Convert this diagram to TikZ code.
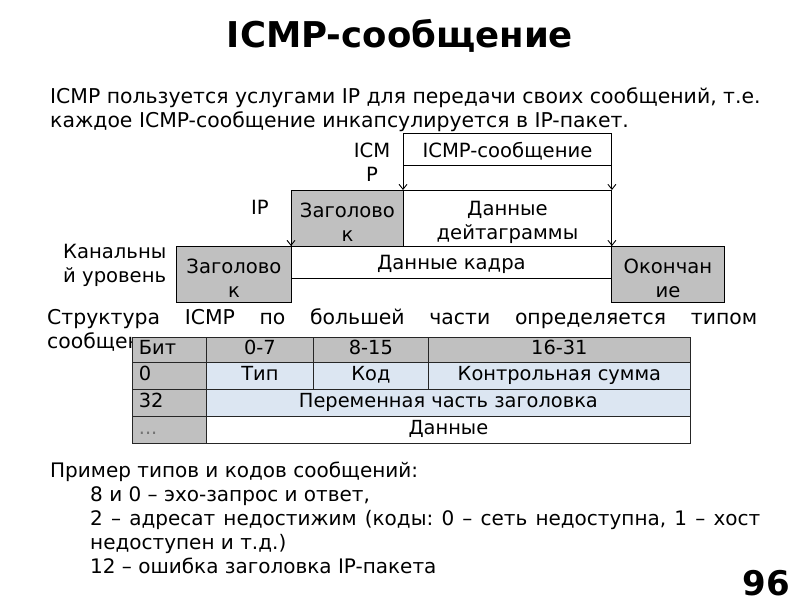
\documentclass[tikz,border=0pt]{standalone}
\usepackage{fontspec}
\setmainfont{DejaVu Sans}
\usetikzlibrary{arrows.meta}
\definecolor{hdrgrey}{RGB}{192,192,192}
\definecolor{cellblue}{RGB}{220,230,242}
\newcommand{\lowone}{\rule{0pt}{19pt}}
\newcommand{\lowtwo}{\rule{0pt}{22pt}}
\begin{document}
\begin{tikzpicture}[x=1pt,y=-1pt,
  txt/.style={inner sep=0pt, font=\fontsize{19.6}{24}\selectfont},
  para/.style={inner sep=0pt, anchor=base west, font=\fontsize{20.4}{24}\selectfont},
  exm/.style={inner sep=0pt, anchor=base west, font=\fontsize{20}{24}\selectfont},
  box/.style={draw=black, line width=0.9pt, inner sep=0pt, anchor=north west, align=center, font=\fontsize{19.6}{24}\selectfont},
  greybox/.style={box, fill=hdrgrey},
  arr/.style={-{Straight Barb[length=5pt,width=8pt]}, line width=0.9pt},
  tcell/.style={draw=black!85, line width=0.8pt, inner xsep=0pt, inner ysep=0pt, anchor=north west, align=center, text height=14pt, text depth=4pt, font=\fontsize{19.4}{24}\selectfont},
  tfirst/.style={tcell, fill=hdrgrey, text width=61pt, inner xsep=6.5pt, align=left}
]
\useasboundingbox (0,0) rectangle (800,600);

% title
\node[inner sep=0pt, anchor=base, font=\bfseries\fontsize{35.5}{40}\selectfont] (title) at (400,47.5) {ICMP-сообщение};

% intro
\node[para] (p1) at (50,103.5) {ICMP пользуется услугами IP для передачи своих сообщений, т.е.};
\node[para] (p2) at (50,127) {каждое ICMP-сообщение инкапсулируется в IP-пакет.};

% encapsulation diagram
\node[box, minimum width=208pt, minimum height=32pt] (icmp) at (403,133) {\lowone ICMP-сообщение};
\node[greybox, minimum width=112pt, minimum height=56pt] (iphdr) at (291,190) {\lowtwo Заголово\\к};
\node[box, minimum width=208pt, minimum height=56pt] (ipdata) at (403,190) {\lowtwo Данные\\дейтаграммы};
\node[greybox, minimum width=115pt, minimum height=56pt] (frhdr) at (176,246) {\lowtwo Заголово\\к};
\node[box, minimum width=320pt, minimum height=32pt] (frdata) at (291,246) {\lowone Данные кадра};
\node[greybox, minimum width=113pt, minimum height=56pt] (frtrl) at (611,246) {\lowtwo Окончан\\ие};

\draw[arr] (icmp.south west) -- (ipdata.north west);
\draw[arr] (icmp.south east) -- (ipdata.north east);
\draw[arr] (iphdr.north west) -- (frdata.north west);
\draw[arr] (ipdata.north east) -- (frdata.north east);

\node[txt, align=center] (licmp) at (372,162) {ICM\\P};
\node[txt] (lip) at (260,207) {IP};
\node[txt, align=left, anchor=west] (lch) at (63,265) {Канальны\\й уровень};

% structure paragraph
\node[para] (p3) at (47,324.5) {\hbox to 710pt{Структура\hfill ICMP\hfill по\hfill большей\hfill части\hfill определяется\hfill типом}};
\begin{scope}
  \clip (40,330) rectangle (132,360);
  \node[para] (p4) at (47,348.5) {сообщен};
\end{scope}

% table
\node[tfirst, minimum height=25pt] (t00) at (132,337) {Бит};
\node[tcell, fill=hdrgrey, minimum width=107pt, minimum height=25pt] (t01) at (206,337) {0-7};
\node[tcell, fill=hdrgrey, minimum width=115pt, minimum height=25pt] (t02) at (313,337) {8-15};
\node[tcell, fill=hdrgrey, minimum width=262pt, minimum height=25pt] (t03) at (428,337) {16-31};

\node[tfirst, minimum height=27pt] (t10) at (132,362) {0};
\node[tcell, fill=cellblue, minimum width=107pt, minimum height=27pt] (t11) at (206,362) {Тип};
\node[tcell, fill=cellblue, minimum width=115pt, minimum height=27pt] (t12) at (313,362) {Код};
\node[tcell, fill=cellblue, minimum width=262pt, minimum height=27pt] (t13) at (428,362) {Контрольная сумма};

\node[tfirst, minimum height=27pt] (t20) at (132,389) {32};
\node[tcell, fill=cellblue, minimum width=484pt, minimum height=27pt] (t21) at (206,389) {Переменная часть заголовка};

\node[tfirst, minimum height=27pt] (t30) at (132,416) {\color{black!55}...};
\node[tcell, fill=white, minimum width=484pt, minimum height=27pt] (t31) at (206,416) {Данные};

% examples
\node[exm] (e0) at (50,477) {Пример типов и кодов сообщений:};
\node[exm] (e1) at (90,501) {8 и 0 – эхо-запрос и ответ,};
\node[exm] (e2) at (90,525.5) {\hbox to 670pt{2\hfill –\hfill адресат\hfill недостижим\hfill (коды:\hfill 0\hfill –\hfill сеть\hfill недоступна,\hfill 1\hfill –\hfill хост}};
\node[exm] (e3) at (90,549.5) {недоступен и т.д.)};
\node[exm] (e4) at (90,573.5) {12 – ошибка заголовка IP-пакета};

\node[inner sep=0pt, anchor=base east, font=\bfseries\fontsize{34}{38}\selectfont] (num) at (790,595.5) {96};
\end{tikzpicture}
\end{document}
